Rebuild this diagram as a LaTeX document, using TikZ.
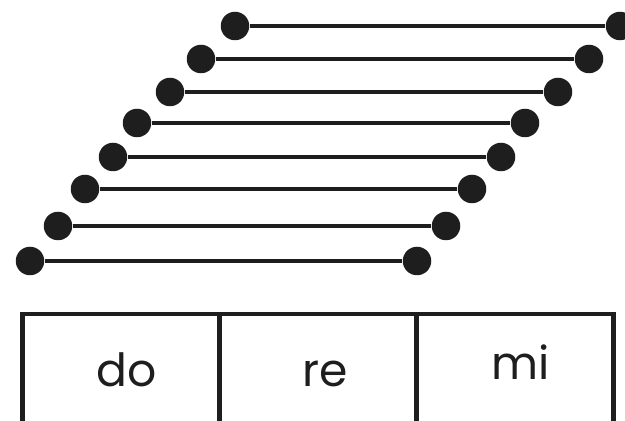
\documentclass[tikz,border=0pt]{standalone}
\usepackage{fontspec}
\setmainfont{Poppins}
\usepackage{xcolor}
\usepackage{tikz}
\usetikzlibrary{positioning}
\usetikzlibrary{shapes.misc, fit}

\definecolor{inkblack}{RGB}{30,30,30}

\tikzset{
    bead/.style={circle, fill=inkblack, inner sep=0pt, minimum size=0.57cm},
    rod/.style={draw=inkblack, line width=1.8pt},
    cell/.style={draw=inkblack, line width=2.7pt, rectangle, inner sep=0pt, outer sep=0pt,
                 minimum width=3.94cm, minimum height=2.4cm},
    syllable/.style={anchor=base, inner sep=0pt, text=inkblack,
                     font=\fontsize{26pt}{26pt}\selectfont}
}

\begin{document}
\begin{tikzpicture}[x=0.02cm, y=-0.02cm]
    \useasboundingbox (0,0) rectangle (625,421);

    % rows of beads, left end and right end
    \foreach \i/\xl/\xr/\yy in {1/235/620/26, 2/201/589/59, 3/170/558/92, 4/137/525/123,
                                5/113/501/157, 6/85/472/189, 7/58/446/226, 8/30/417/261} {
        \node[bead] (left\i) at (\xl,\yy) {};
        \node[bead] (right\i) at (\xr,\yy) {};
        \draw[rod] (left\i) -- (right\i);
    }

    % the three cells
    \node[cell] (cellDo) at (121.25,374) {};
    \node[cell, right=0pt of cellDo] (cellRe) {};
    \node[cell, right=0pt of cellRe] (cellMi) {};

    \node[syllable] (textDo) at (127,387) {do};
    \node[syllable] (textRe) at (325,387) {re};
    \node[syllable] (textMi) at (521,380) {mi};
\end{tikzpicture}
\end{document}
